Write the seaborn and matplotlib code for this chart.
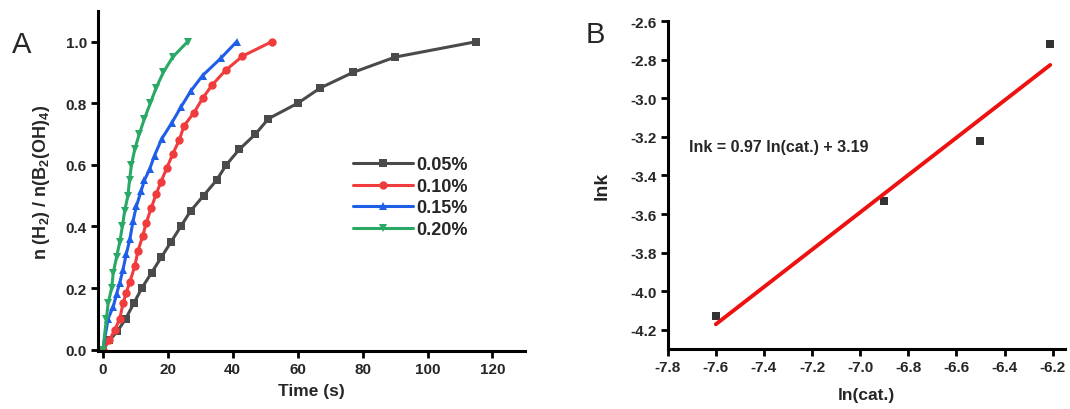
import matplotlib
matplotlib.use("Agg")
import matplotlib.pyplot as plt
import seaborn as sns
import pandas as pd

# panel A: hydrogen release curves
t_005 = [0, 2, 4.5, 7, 9.5, 12, 15, 18, 21, 24, 27, 31, 35, 38, 42, 47, 51, 60, 67, 77, 90, 115]
v_005 = [0, 0.03, 0.06, 0.1, 0.15, 0.2, 0.25, 0.3, 0.35, 0.4, 0.45, 0.5, 0.55, 0.6, 0.65, 0.7, 0.75,
         0.8, 0.85, 0.9, 0.95, 1.0]
t_010 = [0, 2, 3.7, 5.2, 6.2, 7.2, 8.3, 9.8, 10.8, 12.3, 13.3, 14.9, 16.4, 17.9, 19.7, 21.5, 23.5,
         25, 28.1, 30.7, 33.7, 37.8, 43, 52]
v_010 = [0, 0.03, 0.065, 0.1, 0.15, 0.185, 0.22, 0.27, 0.32, 0.37, 0.41, 0.46, 0.505, 0.545, 0.59,
         0.635, 0.68, 0.727, 0.77, 0.816, 0.86, 0.907, 0.953, 1.0]
t_015 = [0, 1.6, 3.2, 4.2, 5.2, 6.2, 7.2, 8.3, 9.3, 10.3, 11.8, 12.8, 14.4, 15.9, 18.1, 21.2, 24,
         27.1, 30.7, 36.3, 41.2]
v_015 = [0, 0.1, 0.14, 0.18, 0.217, 0.26, 0.31, 0.358, 0.418, 0.465, 0.516, 0.55, 0.586, 0.63,
         0.684, 0.736, 0.787, 0.84, 0.89, 0.946, 1.0]
t_020 = [0, 1.1, 1.6, 2.7, 3.2, 4.2, 5.2, 6, 6.7, 7.7, 8.2, 8.8, 9.8, 11.2, 12.8, 14.6, 16.4, 18.6,
         21.5, 26.1]
v_020 = [0, 0.1, 0.15, 0.2, 0.25, 0.3, 0.35, 0.4, 0.45, 0.5, 0.55, 0.6, 0.65, 0.7, 0.75, 0.8, 0.85,
         0.9, 0.95, 1.0]
labels = ["0.05%", "0.10%", "0.15%", "0.20%"]

# panel B: ln k vs ln(cat.)
ln_cat = [-7.6, -6.9, -6.5, -6.21]
ln_k = [-4.13, -3.53, -3.22, -2.72]

colors = ["#4a4a4a", "#f03c3c", "#1f5ee6", "#2aa865"]
markers = ["s", "o", "^", "v"]

sns.set_theme(style="ticks")
plt.rcParams["font.family"] = ["Liberation Sans", "DejaVu Sans"]
plt.rcParams["font.weight"] = "bold"
plt.rcParams["mathtext.fontset"] = "custom"
plt.rcParams["mathtext.rm"] = "Liberation Sans:bold"
plt.rcParams["mathtext.bf"] = "Liberation Sans:bold"

frames = []
for lab, t, v in zip(labels, [t_005, t_010, t_015, t_020], [v_005, v_010, v_015, v_020]):
    frames.append(pd.DataFrame({"time": t, "ratio": v, "cat": lab}))
df = pd.concat(frames, ignore_index=True)

fig = plt.figure(figsize=(10.7, 4.1), dpi=100)
ax1 = fig.add_axes([0.0916, 0.141, 0.399, 0.83])
ax2 = fig.add_axes([0.624, 0.146, 0.371, 0.80])

sns.lineplot(data=df, x="time", y="ratio", hue="cat", style="cat",
             palette=dict(zip(labels, colors)), markers=dict(zip(labels, markers)),
             dashes=False, sort=False, linewidth=2.2, markersize=6,
             markeredgewidth=0, ax=ax1)
ax1.set_xlim(-1.5, 130)
ax1.set_ylim(-0.005, 1.1)
ax1.set_xticks([0, 20, 40, 60, 80, 100, 120])
ax1.set_yticks([0.0, 0.2, 0.4, 0.6, 0.8, 1.0])
ax1.set_yticklabels(["0.0", "0.2", "0.4", "0.6", "0.8", "1.0"])
ax1.set_xlabel("Time (s)", fontsize=12.5, fontweight="bold", labelpad=5)
ax1.set_ylabel(r"n (H$_2$) / n(B$_2$(OH)$_4$)", fontsize=13, fontweight="bold", labelpad=10)
leg = ax1.legend(loc="upper left", bbox_to_anchor=(0.56, 0.62), frameon=False,
                 fontsize=13, handlelength=3.3, handletextpad=0.2, labelspacing=0.25)
for txt in leg.get_texts():
    txt.set_fontweight("bold")

sns.regplot(x=ln_cat, y=ln_k, ci=None, marker="s", ax=ax2,
            scatter_kws={"color": "black", "s": 32, "linewidths": 0},
            line_kws={"color": "#ee1111", "linewidth": 2.8})
ax2.set_xlim(-7.8, -6.15)
ax2.set_ylim(-4.3, -2.6)
ax2.set_xticks([-7.8, -7.6, -7.4, -7.2, -7.0, -6.8, -6.6, -6.4, -6.2])
ax2.set_xticklabels(["-7.8", "-7.6", "-7.4", "-7.2", "-7.0", "-6.8", "-6.6", "-6.4", "-6.2"])
ax2.set_yticks([-4.2, -4.0, -3.8, -3.6, -3.4, -3.2, -3.0, -2.8, -2.6])
ax2.set_yticklabels(["-4.2", "-4.0", "-3.8", "-3.6", "-3.4", "-3.2", "-3.0", "-2.8", "-2.6"])
ax2.set_xlabel("ln(cat.)", fontsize=12.5, fontweight="bold", labelpad=9)
ax2.set_ylabel("lnk", fontsize=14, fontweight="bold", labelpad=14)
ax2.text(-7.71, -3.25, "lnk = 0.97 ln(cat.) + 3.19", fontsize=11.5, fontweight="bold",
         va="center", ha="left")

for ax in (ax1, ax2):
    sns.despine(ax=ax)
    for s in ("left", "bottom"):
        ax.spines[s].set_linewidth(2.2)
        ax.spines[s].set_color("black")
    ax.tick_params(width=2, length=5, color="black", labelsize=11, pad=3)
    for lbl in ax.get_xticklabels() + ax.get_yticklabels():
        lbl.set_fontweight("bold")

fig.text(0.011, 0.87, "A", fontsize=21, fontweight="normal")
fig.text(0.547, 0.895, "B", fontsize=21, fontweight="normal")

fig.savefig("out.png", dpi=100)
